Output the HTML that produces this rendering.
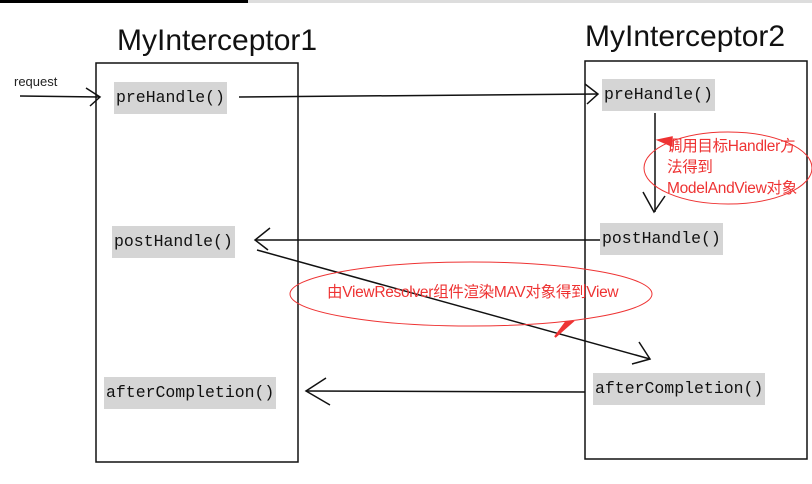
<!DOCTYPE html>
<html><head><meta charset="utf-8"><style>
body{margin:0;width:812px;height:484px;background:#fff;overflow:hidden;position:relative;font-family:"Liberation Sans","Noto Sans CJK SC",sans-serif}
.t{position:absolute;font-size:30px;color:#111;white-space:nowrap}
.m{position:absolute;background:#d5d5d5;font-family:"Liberation Mono","DejaVu Sans Mono",monospace;font-size:16.5px;color:#111;line-height:32px;padding:0 2px;white-space:nowrap}
.r{position:absolute;color:#e33;font-size:15.5px;white-space:nowrap;line-height:21px;letter-spacing:-0.3px}
</style></head><body>
<div style="position:absolute;left:0;top:0;width:248px;height:3px;background:#000"></div>
<div style="position:absolute;left:248px;top:0;width:564px;height:3px;background:#ddd"></div>
<div class="t" style="left:117px;top:24px">MyInterceptor1</div>
<div class="t" style="left:585px;top:20px">MyInterceptor2</div>
<svg width="812" height="484" style="position:absolute;left:0;top:0" fill="none" stroke="#111" stroke-width="1.5">
<rect x="96" y="63" width="202" height="399"/>
<rect x="585" y="61" width="222" height="398"/>
<line x1="20" y1="96" x2="100" y2="97"/><polyline points="86,88 100,97 90,106"/>
<line x1="239" y1="97" x2="598" y2="94"/><polyline points="585,84 598,94 587,104"/>
<line x1="655" y1="113" x2="655" y2="212"/><polyline points="643,192 654,212 665,196"/>
<line x1="600" y1="240" x2="255" y2="240"/><polyline points="270,228 255,240 268,250"/>
<line x1="257" y1="250" x2="650" y2="359"/><polyline points="639,342 650,359 632,364"/>
<line x1="585" y1="392" x2="306" y2="391"/><polyline points="326,378 306,391 330,405"/>
<g stroke="#e33" stroke-width="1">
<ellipse cx="728" cy="168" rx="84" ry="36"/>
<ellipse cx="471" cy="294" rx="181" ry="32"/>
</g>
<path d="M672,146 L658,140 L672,137 Z" fill="#e33" stroke="#e33" stroke-width="1.5"/>
<path d="M572,322 L555,337 L566,322 Z" fill="#e33" stroke="#e33" stroke-width="2"/>
</svg>
<div style="position:absolute;left:14px;top:74px;font-size:13px;color:#222">request</div>
<div class="m" style="left:114px;top:82px">preHandle()</div>
<div class="m" style="left:112px;top:226px">postHandle()</div>
<div class="m" style="left:104px;top:377px">afterCompletion()</div>
<div class="m" style="left:602px;top:79px">preHandle()</div>
<div class="m" style="left:600px;top:223px">postHandle()</div>
<div class="m" style="left:593px;top:373px">afterCompletion()</div>
<div class="r" style="left:667px;top:136px">调用目标Handler方<br>法得到<br>ModelAndView对象</div>
<div class="r" style="left:327px;top:282px">由ViewResolver组件渲染MAV对象得到View</div>
</body></html>
